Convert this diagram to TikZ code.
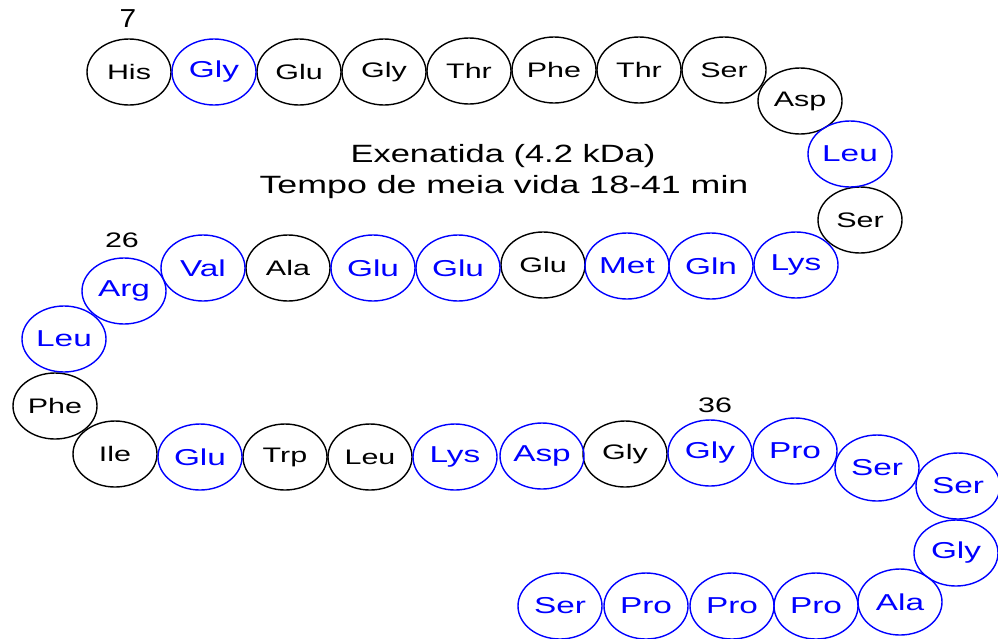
\documentclass[tikz,border=0pt]{standalone}
\usepackage{fontspec}
\setmainfont{Liberation Sans}
\usetikzlibrary{shapes.geometric}
\newcommand{\wide}[1]{\scalebox{1.45}[1]{#1}}
\begin{document}
\begin{tikzpicture}[x=1pt,y=-1pt,
	aa/.style={ellipse,draw,line width=1.4pt,minimum width=84pt,minimum height=66pt,inner sep=0pt},
	bk/.style={aa,draw=black,font=\fontsize{21}{25}\selectfont},
	bl/.style={aa,draw=blue,text=blue,font=\fontsize{23}{27}\selectfont},
	num/.style={inner sep=0pt,font=\fontsize{21}{25}\selectfont}]
	\useasboundingbox (0,0) rectangle (998,638);
	% black residues
	\foreach \x/\y/\t [count=\i] in {129/72/His,299/72/Glu,384/72/Gly,469/71/Thr,554/70/Phe,639/70/Thr,724/70/Ser,
		800/101/Asp,860/220/Ser,543/265/Glu,288/268/Ala,55/406/Phe,115/454/Ile,285/457/Trp,370/457/Leu,625/454/Gly}
		\node[bk] at (\x,\y) (k\i) {\wide{\t}};
	% blue residues
	\foreach \x/\y/\t [count=\i] in {214/72/Gly,850/154/Leu,796/265/Lys,711/266/Gln,627/266/Met,458/268/Glu,373/268/Glu,
		203/268/Val,124/291/Arg,64/339/Leu,200/457/Glu,455/457/Lys,542/456/Asp,710/453/Gly,795/451/Pro,877/468/Ser,
		958/486/Ser,956/553/Gly,900/602/Ala,816/606/Pro,732/606/Pro,646/606/Pro,560/606/Ser}
		\node[bl] at (\x,\y) (b\i) {\wide{\t}};

	\node[num,font=\fontsize{26}{30}\selectfont] at (128,19) (n7) {\scalebox{1.15}[1]{7}};
	\node[num] at (122,240) (n26) {\wide{26}};
	\node[num] at (715,405) (n36) {\wide{36}};

	\node[anchor=base,inner sep=0pt,font=\fontsize{25}{30}\selectfont] at (503,162) (title) {\scalebox{1.38}[1]{Exenatida (4.2 kDa)}};
	\node[anchor=base,inner sep=0pt,font=\fontsize{25}{30}\selectfont] at (504,193) (halflife) {\scalebox{1.43}[1]{Tempo de meia vida 18-41 min}};
\end{tikzpicture}
\end{document}
